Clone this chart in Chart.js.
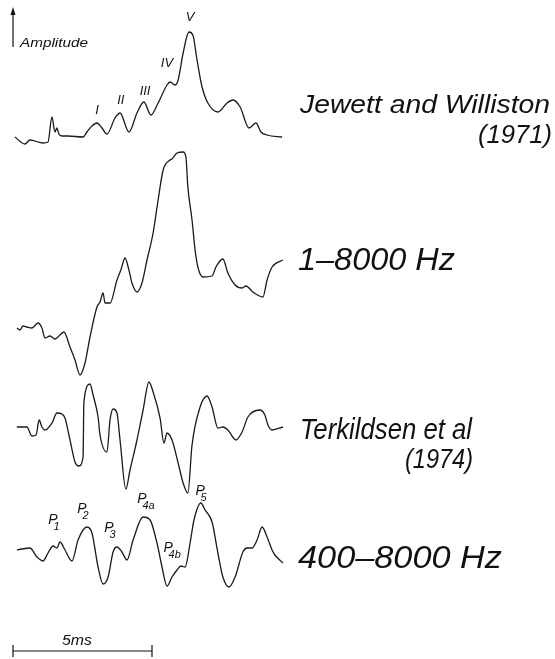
<!DOCTYPE html>
<html>
<head>
<meta charset="utf-8">
<script src="https://cdn.jsdelivr.net/npm/chart.js@4/dist/chart.umd.min.js"></script>
<style>
  html, body { margin: 0; padding: 0; background: #fff; }
  #wrap { width: 555px; height: 659px; }
</style>
</head>
<body>
<div id="wrap"><canvas id="myChart" width="555" height="659"></canvas></div>
<script>
// time axis in ms, amplitude in arbitrary units
const timeJewett = [0.07, 0.43, 0.61, 1.08, 1.26, 1.40, 1.51, 1.58, 1.65, 1.76, 1.98, 2.52, 2.66, 2.84, 3.02, 3.20, 3.38, 3.67, 3.85, 4.17, 4.46, 4.71, 4.96, 5.22, 5.54, 5.65, 5.83, 5.94, 6.12, 6.33, 6.47, 6.62, 6.80, 7.01, 7.37, 7.70, 7.91, 8.17, 8.49, 8.74, 8.92, 9.14, 9.68];
const ampJewett = [0, -7, -3, -6, -5, 20, 5, 9, 3, 1, 1, 0, 5, 11, 14, 9, 3, 19, 24, 5, 24, 35, 22, 34, 52, 55, 52, 57, 84, 105, 102, 77, 50, 34, 25, 34, 37, 30, 9, 14, 5, 2, 0];

const timeWide = [0.14, 0.25, 0.36, 0.50, 0.68, 0.90, 1.04, 1.15, 1.33, 1.51, 1.69, 1.83, 2.05, 2.23, 2.41, 2.59, 2.77, 3.02, 3.13, 3.24, 3.31, 3.49, 3.74, 3.88, 4.03, 4.17, 4.28, 4.46, 4.64, 4.82, 5.04, 5.22, 5.40, 5.65, 5.72, 5.90, 6.12, 6.22, 6.29, 6.44, 6.55, 6.65, 6.83, 7.16, 7.30, 7.55, 7.73, 7.99, 8.24, 8.38, 8.63, 8.99, 9.14, 9.32, 9.71];
const ampWide = [0, -2, 2, 1, 0, 5, 0, -10, -8, -11, -7, -4, -19, -32, -47, -35, -9, 21, 26, 35, 25, 25, 48, 58, 70, 58, 45, 36, 45, 68, 95, 128, 158, 168, 169, 175, 176, 171, 141, 108, 78, 61, 51, 52, 61, 69, 55, 43, 40, 42, 36, 31, 48, 61, 68];

const timeTerkildsen = [0.14, 0.50, 0.68, 0.83, 0.94, 1.04, 1.15, 1.40, 1.58, 1.76, 1.87, 2.05, 2.23, 2.37, 2.52, 2.55, 2.77, 2.88, 3.06, 3.13, 3.38, 3.49, 3.60, 3.74, 3.85, 4.06, 4.21, 4.46, 4.68, 4.89, 5.04, 5.29, 5.43, 5.54, 5.72, 5.94, 6.12, 6.29, 6.44, 6.73, 6.98, 7.16, 7.37, 7.55, 7.73, 8.02, 8.24, 8.45, 8.88, 9.06, 9.17, 9.32, 9.71];
const ampTerkildsen = [0, 0, -9, -8, 7, 0, -3, 4, 14, 13, 9, -13, -35, -39, -30, 25, 43, 32, 10, -8, -25, 7, 18, 14, -13, -62, -43, -13, 17, 45, 35, 9, -16, -6, -13, -36, -56, -66, -18, 20, 31, 20, -1, 0, -3, -13, -5, 10, 17, 12, 2, -3, 0];

const timeNarrow = [0.14, 0.32, 0.61, 0.86, 1.08, 1.26, 1.44, 1.58, 1.69, 1.87, 2.12, 2.34, 2.66, 2.84, 3.06, 3.24, 3.42, 3.60, 3.74, 3.92, 4.10, 4.32, 4.68, 4.93, 5.18, 5.36, 5.54, 5.72, 5.90, 6.04, 6.19, 6.37, 6.51, 6.76, 6.91, 7.16, 7.37, 7.55, 7.77, 7.99, 8.27, 8.42, 8.60, 8.78, 8.96, 9.14, 9.32, 9.42, 9.71];
const ampNarrow = [0, 1, 2, -7, -11, -3, 4, 2, 8, 0, -11, 10, 23, 17, -17, -34, -27, -2, 3, -2, -10, 10, 33, 30, 7, -17, -36, -27, -20, -16, -17, 7, 30, 47, 40, 28, -3, -27, -37, -27, -2, 2, 2, 10, 23, 13, 0, -5, -13];

// wave labels: text, time (ms), amplitude on the trace
const romanLabels = ['I', 'II', 'III', 'IV', 'V'];
const romanTimes = [3.02, 3.88, 4.75, 5.54, 6.37];
const romanAmps = [27, 37, 46, 74, 120];

const pSubs = ['1', '2', '3', '4a', '4b', '5'];
const pTimes = [1.44, 2.48, 3.45, 4.64, 5.58, 6.73];
const pAmps = [30, 41, 22, 51, 2, 59];

const scaleBarMs = 5;

// layout
const pxPerMs = 27.8;
const originX = 13;
const W = 555, H = 659;
const traceBase = [137, 328, 427, 550];
const FONT = '"Liberation Sans", Arial, "DejaVu Sans", sans-serif';

const toPoints = (times, amps, base) => times.map((t, i) => ({ x: t, y: -base + amps[i] }));

const traceStyle = {
  borderColor: '#1a1a1a',
  borderWidth: 1.3,
  pointRadius: 0,
  fill: false,
  cubicInterpolationMode: 'monotone'
};

// draw italic text squeezed to a given width
const fitText = (ctx, text, x, baseline, size, width, align) => {
  ctx.save();
  ctx.font = 'italic ' + size + 'px ' + FONT;
  const w = ctx.measureText(text).width;
  const sx = width / w;
  ctx.translate(align === 'right' ? x - width : x, baseline);
  ctx.scale(sx, 1);
  ctx.textAlign = 'left';
  ctx.textBaseline = 'alphabetic';
  ctx.fillText(text, 0, 0);
  ctx.restore();
};

const annotations = {
  id: 'annotations',
  afterDatasetsDraw(chart) {
    const ctx = chart.ctx;
    const xs = chart.scales.x;
    const ys = chart.scales.y;
    ctx.save();
    ctx.fillStyle = '#111';
    ctx.strokeStyle = '#111';

    // roman numerals on the first trace
    ctx.font = 'italic 13px ' + FONT;
    ctx.textAlign = 'center';
    ctx.textBaseline = 'middle';
    romanLabels.forEach((lab, i) => {
      ctx.fillText(lab, xs.getPixelForValue(romanTimes[i]), ys.getPixelForValue(-traceBase[0] + romanAmps[i]));
    });

    // P labels on the last trace
    pSubs.forEach((sub, i) => {
      const px = xs.getPixelForValue(pTimes[i]);
      const py = ys.getPixelForValue(-traceBase[3] + pAmps[i]);
      ctx.font = 'italic 14px ' + FONT;
      ctx.textAlign = 'center';
      ctx.textBaseline = 'middle';
      ctx.fillText('P', px, py);
      ctx.font = 'italic 11px ' + FONT;
      ctx.textAlign = 'left';
      ctx.fillText(sub, px + 0.5, py + 7);
    });

    // amplitude arrow
    const ax = xs.getPixelForValue(0);
    ctx.lineWidth = 1.2;
    ctx.beginPath();
    ctx.moveTo(ax, 47);
    ctx.lineTo(ax, 12);
    ctx.stroke();
    ctx.beginPath();
    ctx.moveTo(ax, 7);
    ctx.lineTo(ax - 2.5, 15);
    ctx.lineTo(ax + 2.5, 15);
    ctx.closePath();
    ctx.fill();
    fitText(ctx, 'Amplitude', 20, 47, 12, 68);

    // 5 ms scale bar
    const x0 = xs.getPixelForValue(0);
    const x1 = xs.getPixelForValue(scaleBarMs);
    ctx.lineWidth = 1.2;
    ctx.beginPath();
    ctx.moveTo(x0, 651);
    ctx.lineTo(x1, 651);
    ctx.moveTo(x0, 645);
    ctx.lineTo(x0, 657);
    ctx.moveTo(x1, 645);
    ctx.lineTo(x1, 657);
    ctx.stroke();
    fitText(ctx, scaleBarMs + 'ms', 62, 645, 14, 30);

    // trace names
    fitText(ctx, 'Jewett and Williston', 300, 113, 25, 250);
    fitText(ctx, '(1971)', 552, 143, 25, 74, 'right');
    fitText(ctx, '1\u20138000 Hz', 298, 270, 31, 157);
    fitText(ctx, 'Terkildsen et al', 300, 439, 30, 172);
    fitText(ctx, '(1974)', 473, 468, 27, 68, 'right');
    fitText(ctx, '400\u20138000 Hz', 298, 568, 31, 204);

    ctx.restore();
  }
};

const ctx = document.getElementById('myChart').getContext('2d');
// eslint-disable-next-line no-unused-vars
const chart = new Chart(ctx, {
  type: 'line',
  data: {
    datasets: [
      Object.assign({ label: 'Jewett and Williston (1971)', data: toPoints(timeJewett, ampJewett, traceBase[0]) }, traceStyle),
      Object.assign({ label: '1-8000 Hz', data: toPoints(timeWide, ampWide, traceBase[1]) }, traceStyle),
      Object.assign({ label: 'Terkildsen et al (1974)', data: toPoints(timeTerkildsen, ampTerkildsen, traceBase[2]) }, traceStyle),
      Object.assign({ label: '400-8000 Hz', data: toPoints(timeNarrow, ampNarrow, traceBase[3]) }, traceStyle)
    ]
  },
  options: {
    responsive: false,
    animation: false,
    devicePixelRatio: 1,
    layout: { padding: 0 },
    plugins: { legend: { display: false }, tooltip: { enabled: false } },
    scales: {
      x: { type: 'linear', display: false, min: -originX / pxPerMs, max: (W - originX) / pxPerMs },
      y: { type: 'linear', display: false, min: -H, max: 0 }
    }
  },
  plugins: [annotations]
});
</script>
</body>
</html>
